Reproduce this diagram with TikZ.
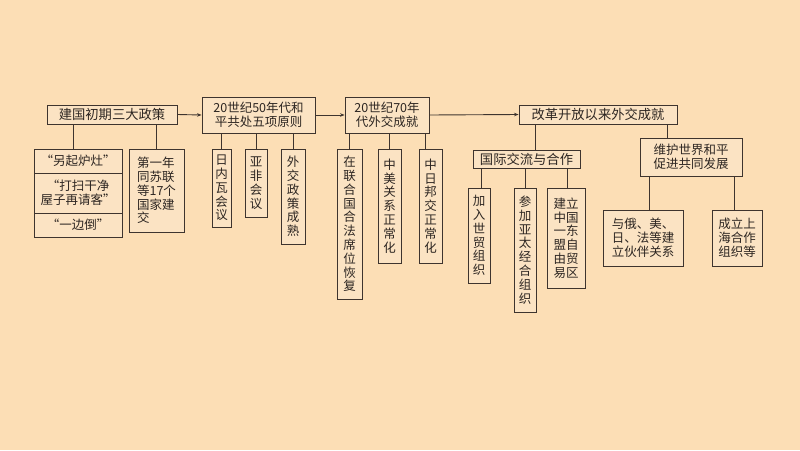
\documentclass[tikz,border=0pt]{standalone}
\usepackage{fontspec}
\newfontfamily\cjk{Noto Sans CJK SC}
\usetikzlibrary{arrows.meta}
\definecolor{bgc}{RGB}{252,222,181}
\definecolor{boxc}{RGB}{251,227,195}
\definecolor{linec}{RGB}{62,52,46}
\definecolor{textc}{RGB}{45,38,34}
\tikzset{
  box/.style={draw=linec, fill=boxc, line width=0.9pt, inner sep=0pt, align=center,
    text=textc, font=\cjk\fontsize{12.5}{13.8}\selectfont},
  bigbox/.style={box, font=\cjk\fontsize{13.3}{14.5}\selectfont},
  conn/.style={draw=linec, line width=0.9pt},
  arr/.style={conn, -{Stealth[length=4.5pt,width=3.5pt]}}
}
\begin{document}
\begin{tikzpicture}[x=1pt,y=-1pt]
\fill[bgc] (0,0) rectangle (800,450);
\useasboundingbox (0,0) rectangle (800,450);
% top row
\node[bigbox, minimum width=130, minimum height=19] (b1) at (112,114.5) {建国初期三大政策};
\node[box, minimum width=113, minimum height=36] (b2) at (258.5,115) {20世纪50年代和\\平共处五项原则};
\node[box, minimum width=84, minimum height=36] (b3) at (387,115) {20世纪70年\\代外交成就};
\node[bigbox, minimum width=158, minimum height=19] (b4) at (598,114.5) {改革开放以来外交成就};
\draw[arr] (b1.east) -- (b2.west);
\draw[arr] (b2.east) -- (b3.west);
\draw[arr] (b3.east) -- (b4.west);
% box1 children
\node[box, minimum width=88, minimum height=24] (s1) at (78,161) {“另起炉灶”};
\node[box, minimum width=88, minimum height=40] (s2) at (78,193) {“打扫干净\\屋子再请客”};
\node[box, minimum width=88, minimum height=24] (s3) at (78,225) {“一边倒”};
\node[box, align=left, minimum width=55, minimum height=83] (r1) at (156.5,190.5) {第一年\\同苏联\\等17个\\国家建\\交};
\draw[conn] ([xshift=-5pt]s1.north) -- ([xshift=-5pt]s1.north |- b1.south);
\draw[conn] (r1.north) -- (r1.north |- b1.south);
% box2 children
\node[box, minimum width=19, minimum height=78] (c21) at (221.5,188) {日\\内\\瓦\\会\\议};
\node[box, minimum width=22, minimum height=68] (c22) at (256,183) {亚\\非\\会\\议};
\node[box, minimum width=24, minimum height=95] (c23) at (293,196.5) {外\\交\\政\\策\\成\\熟};
\foreach \n in {c21,c22,c23} \draw[conn] (\n.north) -- (\n.north |- b2.south);
% box3 children
\node[box, minimum width=25, minimum height=150] (c31) at (349.5,224) {在\\联\\合\\国\\合\\法\\席\\位\\恢\\复};
\node[box, minimum width=23, minimum height=114] (c32) at (389.5,206) {中\\美\\关\\系\\正\\常\\化};
\node[box, minimum width=23, minimum height=114] (c33) at (430.5,206) {中\\日\\邦\\交\\正\\常\\化};
\draw[conn] (c31.north) -- (c31.north |- b3.south);
\draw[conn] (c32.north) -- (c32.north |- b3.south);
\draw[conn] ([xshift=-5pt]c33.north) -- ([xshift=-5pt]c33.north |- b3.south);
% box4 children
\node[bigbox, minimum width=107, minimum height=18] (g1) at (526.5,159) {国际交流与合作};
\node[box, minimum width=102, minimum height=38] (h1) at (691,157) {维护世界和平\\促进共同发展};
\draw[conn] ([xshift=8.5pt]g1.north) -- ([xshift=8.5pt]g1.north |- b4.south);
\draw[conn] ([xshift=-24pt]h1.north) -- ([xshift=-24pt]h1.north |- b4.south);
\node[box, minimum width=22, minimum height=95] (d1) at (479,235.5) {加\\入\\世\\贸\\组\\织};
\node[box, minimum width=22, minimum height=124] (d2) at (525,250) {参\\加\\亚\\太\\经\\合\\组\\织};
\node[box, minimum width=38, minimum height=100] (d3) at (566,238) {建立\\中国\\一东\\盟自\\由贸\\易区};
\draw[conn] ([xshift=2pt]d1.north) -- ([xshift=2pt]d1.north |- g1.south);
\draw[conn] (d2.north) -- (d2.north |- g1.south);
\draw[conn] ([xshift=1pt]d3.north) -- ([xshift=1pt]d3.north |- g1.south);
\node[box, minimum width=80, minimum height=56] (e1) at (643,238) {与俄、美、\\日、法等建\\立伙伴关系};
\node[box, minimum width=50, minimum height=56] (e2) at (737,238) {成立上\\海合作\\组织等};
\draw[conn] ([xshift=6pt]e1.north) -- ([xshift=6pt]e1.north |- h1.south);
\draw[conn] ([xshift=-3pt]e2.north) -- ([xshift=-3pt]e2.north |- h1.south);
\end{tikzpicture}
\end{document}
